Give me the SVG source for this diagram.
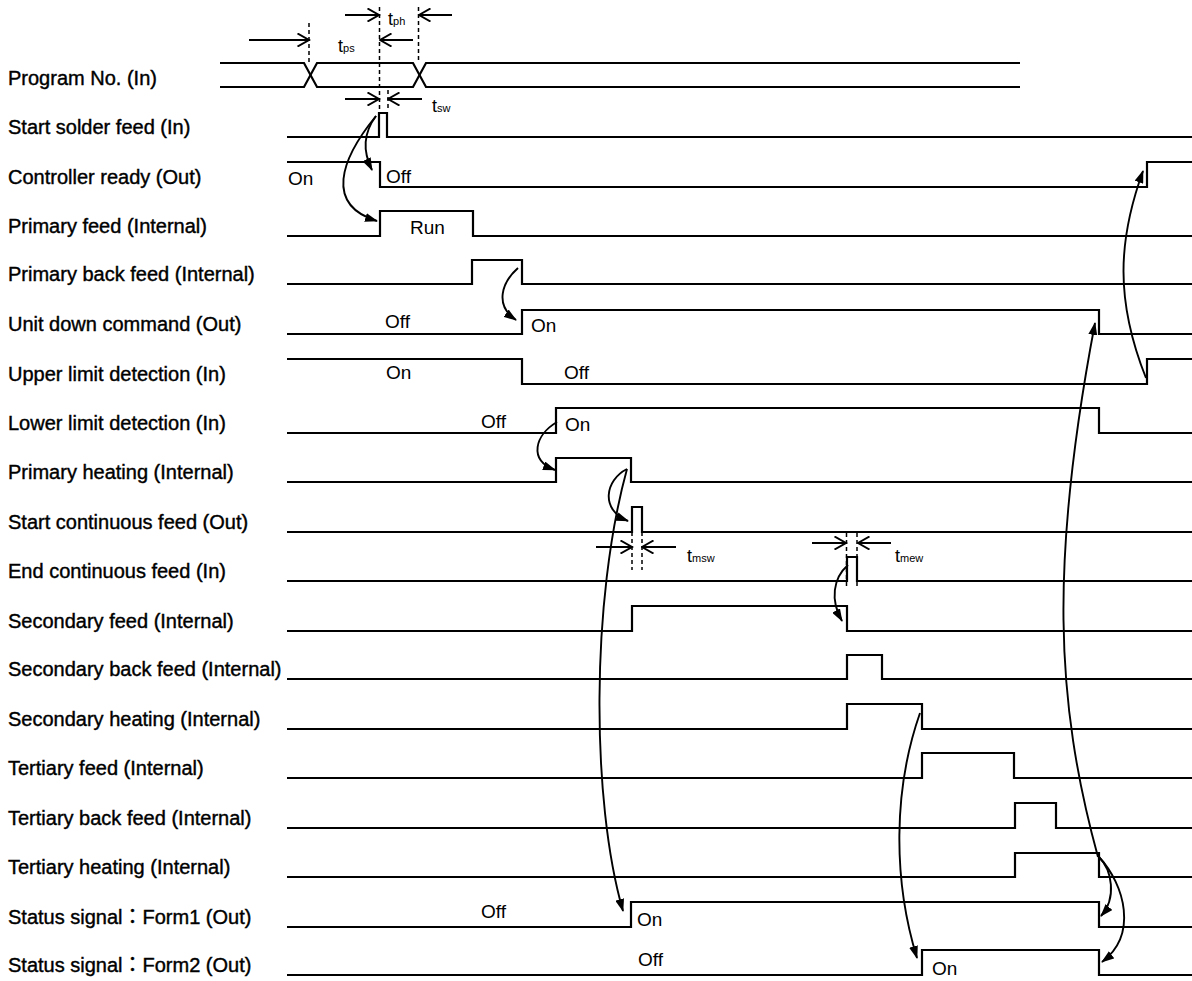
<svg xmlns="http://www.w3.org/2000/svg" width="1192" height="981" viewBox="0 0 1192 981">
<defs>
<style>
.sig{fill:none;stroke:#000;stroke-width:2.2}
.cur{fill:none;stroke:#000;stroke-width:1.9;marker-end:url(#ah)}
.dim{fill:none;stroke:#000;stroke-width:2;marker-end:url(#va)}
.dash{fill:none;stroke:#000;stroke-width:1.5;stroke-dasharray:4 3}
text{font-family:"Liberation Sans",Arial,"Noto Sans CJK JP",sans-serif;fill:#000}
.lbl{font-size:20px;stroke:#000;stroke-width:0.4}
.st{font-size:19px}
.t{font-size:18px}
.sub{font-size:11px}
</style>
<marker id="ah" viewBox="0 0 13 9" refX="12" refY="4.5" markerWidth="13" markerHeight="9" markerUnits="userSpaceOnUse" orient="auto"><path d="M0,0 L13,4.5 L0,9 z" fill="#000"/></marker>
<marker id="va" viewBox="0 0 14 14" refX="12.5" refY="7" markerWidth="14" markerHeight="14" markerUnits="userSpaceOnUse" orient="auto"><path d="M1,0.5 L12.5,7 L1,13.5" fill="none" stroke="#000" stroke-width="2"/></marker>
</defs>
<rect width="1192" height="981" fill="#fff"/>

<g id="program-no">
<text class="lbl" x="8" y="85">Program No. (In)</text>
<path class="sig" d="M220,63 H304 L317,87 H413 L426,63 H1020"/>
<path class="sig" d="M220,87 H304 L317,63 H413 L426,87 H1020"/>
</g>
<g id="start-solder-feed">
<text class="lbl" x="8" y="134">Start solder feed (In)</text>
<path class="sig" d="M287,137 H379 V113 H387 V137 H1192"/>
</g>
<g id="controller-ready">
<text class="lbl" x="8" y="184">Controller ready (Out)</text>
<path class="sig" d="M287,162 H380 V187 H1147 V162 H1192"/>
<text class="st" x="288" y="185">On</text>
<text class="st" x="386" y="183">Off</text>
</g>
<g id="primary-feed">
<text class="lbl" x="8" y="233">Primary feed (Internal)</text>
<path class="sig" d="M287,236 H380 V211 H473 V236 H1192"/>
<text class="st" x="410" y="234">Run</text>
</g>
<g id="primary-back-feed">
<text class="lbl" x="8" y="281">Primary back feed (Internal)</text>
<path class="sig" d="M287,284 H472 V260 H522 V284 H1192"/>
</g>
<g id="unit-down-command">
<text class="lbl" x="8" y="331">Unit down command (Out)</text>
<path class="sig" d="M287,334 H522 V310 H1099 V334 H1192"/>
<text class="st" x="385" y="328">Off</text>
<text class="st" x="531" y="332">On</text>
</g>
<g id="upper-limit-detection">
<text class="lbl" x="8" y="381">Upper limit detection (In)</text>
<path class="sig" d="M287,359 H522 V384 H1147 V359 H1192"/>
<text class="st" x="386" y="379">On</text>
<text class="st" x="564" y="379">Off</text>
</g>
<g id="lower-limit-detection">
<text class="lbl" x="8" y="430">Lower limit detection (In)</text>
<path class="sig" d="M287,433 H556 V408 H1099 V433 H1192"/>
<text class="st" x="481" y="428">Off</text>
<text class="st" x="565" y="431">On</text>
</g>
<g id="primary-heating">
<text class="lbl" x="8" y="479">Primary heating (Internal)</text>
<path class="sig" d="M287,482 H556 V458 H631 V482 H1192"/>
</g>
<g id="start-continuous-feed">
<text class="lbl" x="8" y="529">Start continuous feed (Out)</text>
<path class="sig" d="M287,532 H632 V507 H642 V532 H1192"/>
</g>
<g id="end-continuous-feed">
<text class="lbl" x="8" y="578">End continuous feed (In)</text>
<path class="sig" d="M287,581 H847 V557 H857 V581 H1192"/>
</g>
<g id="secondary-feed">
<text class="lbl" x="8" y="628">Secondary feed (Internal)</text>
<path class="sig" d="M287,631 H632 V606 H847 V631 H1192"/>
</g>
<g id="secondary-back-feed">
<text class="lbl" x="8" y="676">Secondary back feed (Internal)</text>
<path class="sig" d="M287,679 H847 V655 H882 V679 H1192"/>
</g>
<g id="secondary-heating">
<text class="lbl" x="8" y="726">Secondary heating (Internal)</text>
<path class="sig" d="M287,729 H847 V704 H922 V729 H1192"/>
</g>
<g id="tertiary-feed">
<text class="lbl" x="8" y="775">Tertiary feed (Internal)</text>
<path class="sig" d="M287,778 H922 V753 H1014 V778 H1192"/>
</g>
<g id="tertiary-back-feed">
<text class="lbl" x="8" y="825">Tertiary back feed (Internal)</text>
<path class="sig" d="M287,828 H1015 V803 H1056 V828 H1192"/>
</g>
<g id="tertiary-heating">
<text class="lbl" x="8" y="874">Tertiary heating (Internal)</text>
<path class="sig" d="M287,877 H1015 V853 H1099 V877 H1192"/>
</g>
<g id="status-form1">
<text class="lbl" x="8" y="924">Status signal：Form1 (Out)</text>
<path class="sig" d="M287,927 H631 V902 H1099 V927 H1192"/>
<text class="st" x="481" y="918">Off</text>
<text class="st" x="637" y="926">On</text>
</g>
<g id="status-form2">
<text class="lbl" x="8" y="972">Status signal：Form2 (Out)</text>
<path class="sig" d="M287,975 H922 V950 H1099 V975 H1192"/>
<text class="st" x="638" y="966">Off</text>
<text class="st" x="932" y="975">On</text>
</g>

<g id="timing-dimensions">
<path class="dash" d="M309,23 V63"/>
<path class="dash" d="M379.5,7 V110"/>
<path class="dash" d="M418.5,7 V63"/>
<path class="dash" d="M388,90 V110"/>
<path class="dim" d="M249,40 H309"/>
<path class="dim" d="M413,40 H380"/>
<path class="dim" d="M345,15 H379"/>
<path class="dim" d="M452,15 H419"/>
<path class="dim" d="M345,99 H379"/>
<path class="dim" d="M422,99 H388"/>
<text x="338" y="52"><tspan class="t">t</tspan><tspan class="sub">ps</tspan></text>
<text x="388" y="25"><tspan class="t">t</tspan><tspan class="sub">ph</tspan></text>
<text x="432" y="112"><tspan class="t">t</tspan><tspan class="sub">sw</tspan></text>
<path class="dash" d="M632,532 V570"/>
<path class="dash" d="M642,532 V570"/>
<path class="dim" d="M596,547 H632"/>
<path class="dim" d="M676,547 H642"/>
<text x="687" y="562"><tspan class="t">t</tspan><tspan class="sub">msw</tspan></text>
<path class="dash" d="M846.5,533 V587"/>
<path class="dash" d="M857,533 V587"/>
<path class="dim" d="M812,543 H846"/>
<path class="dim" d="M891,543 H858"/>
<text x="895" y="562"><tspan class="t">t</tspan><tspan class="sub">mew</tspan></text>
</g>

<g id="connectors">
<path class="cur" d="M376,116 C364,132 362,150 372,170"/>
<path class="cur" d="M376,116 C340,160 325,205 377,221"/>
<path class="cur" d="M518,268 C502,282 494,305 516,320"/>
<path class="cur" d="M557,422 C535,435 528,460 555,470"/>
<path class="cur" d="M627,469 C605,480 600,510 628,521"/>
<path class="cur" d="M627,469 C591,600 591,800 623,911"/>
<path class="cur" d="M848,565 C833,578 830,600 842,621"/>
<path class="cur" d="M920,713 C893,790 893,880 917,958"/>
<path class="cur" d="M1098,857 C1055,700 1050,560 1095,323"/>
<path class="cur" d="M1146,378 C1115,300 1118,240 1143,171"/>
<path class="cur" d="M1099,857 C1112,870 1117,898 1101,916"/>
<path class="cur" d="M1099,857 C1125,885 1138,935 1102,962"/>
</g>
</svg>
